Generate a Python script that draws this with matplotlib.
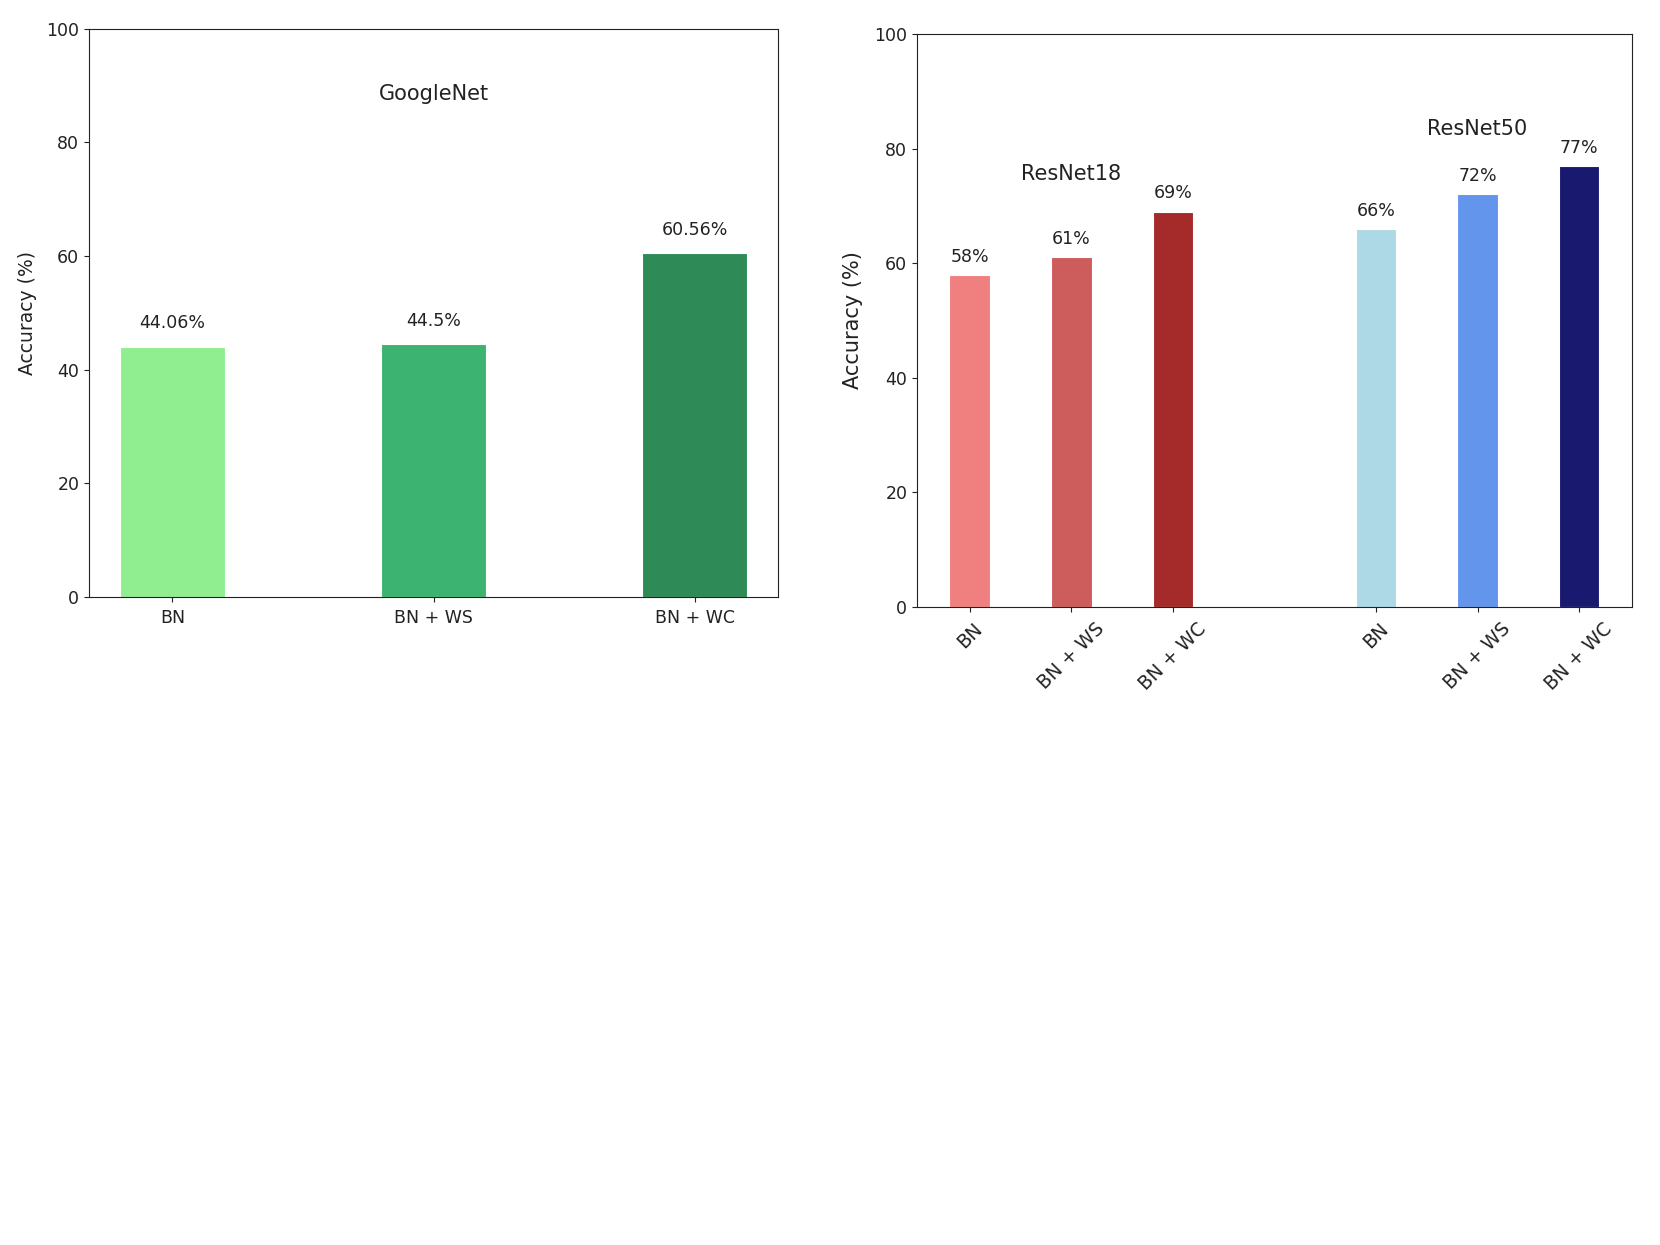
import numpy as np
import matplotlib
matplotlib.use("Agg")
import matplotlib.pyplot as plt

# GoogleNet results
g_labels = ["BN", "BN + WS", "BN + WC"]
g_acc = [44.06, 44.5, 60.56]
g_text = ["44.06%", "44.5%", "60.56%"]
g_colors = ["lightgreen", "mediumseagreen", "seagreen"]

# ResNet18 / ResNet50 results
r_labels = ["BN", "BN + WS", "BN + WC", "BN", "BN + WS", "BN + WC"]
r_pos = [0, 1, 2, 4, 5, 6]
r_acc = [58, 61, 69, 66, 72, 77]
r_colors = ["lightcoral", "indianred", "brown",
            "lightblue", "cornflowerblue", "midnightblue"]

dark = "#222222"
plt.rcParams["font.size"] = 12.5
plt.rcParams["text.color"] = dark
plt.rcParams["axes.labelcolor"] = dark
plt.rcParams["axes.edgecolor"] = dark
plt.rcParams["xtick.color"] = dark
plt.rcParams["ytick.color"] = dark

fig = plt.figure(figsize=(16.6, 12.45), dpi=100)
ax1 = fig.add_axes([0.0536, 0.5205, 0.4151, 0.4565])
ax2 = fig.add_axes([0.5524, 0.5124, 0.4307, 0.4603])

# left: GoogleNet
x = np.arange(len(g_labels))
ax1.bar(x, g_acc, width=0.4, color=g_colors, edgecolor="white", linewidth=0.8)
for xi, h, t in zip(x, g_acc, g_text):
    ax1.text(xi, h + 2.5, t, ha="center", va="bottom")
ax1.set_xticks(x)
ax1.set_xticklabels(g_labels)
ax1.tick_params(axis="x", pad=5)
ax1.set_ylim(0, 100)
ax1.set_ylabel("Accuracy (%)", labelpad=7, fontsize=13.5)
ax1.text(1, 88.5, "GoogleNet", ha="center", va="center", fontsize=15)

# right: ResNet18 and ResNet50
ax2.bar(r_pos, r_acc, width=0.4, color=r_colors, edgecolor="white", linewidth=0.8)
for xi, h in zip(r_pos, r_acc):
    ax2.text(xi, h + 1.6, f"{h}%", ha="center", va="bottom")
ax2.set_xticks(r_pos)
ax2.set_xticklabels(r_labels, rotation=45, ha="center", fontsize=13.5)
ax2.tick_params(axis="x", pad=5)
ax2.set_ylim(0, 100)
ax2.set_ylabel("Accuracy (%)", labelpad=8, fontsize=15)
ax2.text(1, 75.6, "ResNet18", ha="center", va="center", fontsize=15)
ax2.text(5, 83.5, "ResNet50", ha="center", va="center", fontsize=15)

fig.savefig("out.png", dpi=100)
